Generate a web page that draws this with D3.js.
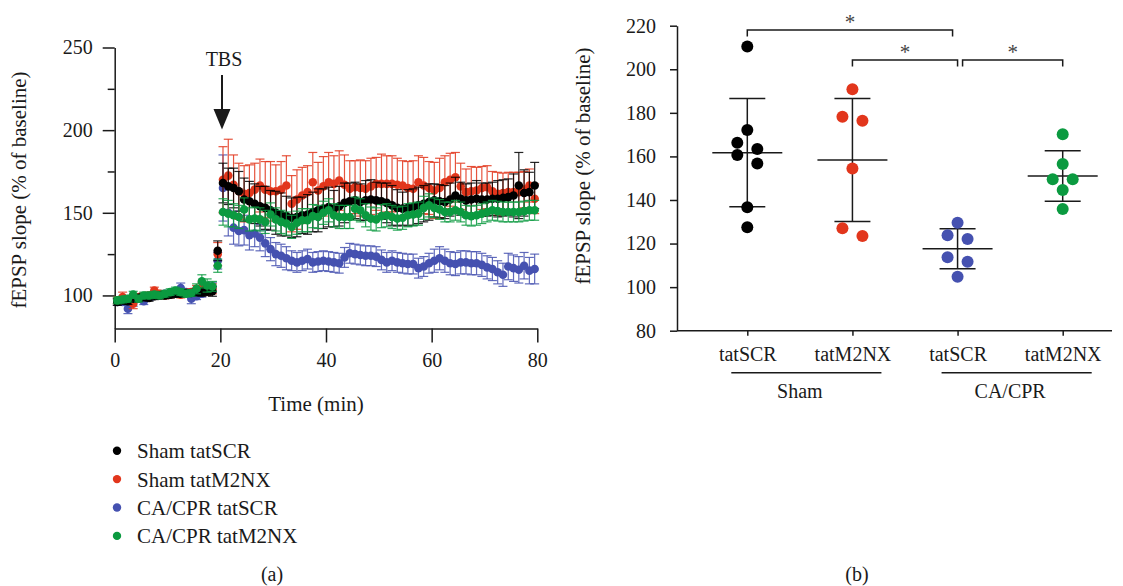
<!DOCTYPE html>
<html>
<head>
<meta charset="utf-8">
<script src="https://cdn.jsdelivr.net/npm/d3@7"></script>
<style>
body { margin: 0; background: #ffffff; }
svg { display: block; }
</style>
</head>
<body>
<div id="chart"></div>
<script>
// ---- panel (a): fEPSP time course, mean and SEM per minute ----
var timeMin = [0.5, 1.5, 2.5, 3.5, 4.5, 5.5, 6.5, 7.5, 8.5, 9.5, 10.5, 11.5, 12.5, 13.5, 14.5, 15.5, 16.5, 17.5, 18.5, 19.5,
    20.5, 21.5, 22.5, 23.5, 24.5, 25.5, 26.5, 27.5, 28.5, 29.5, 30.5, 31.5, 32.5, 33.5, 34.5, 35.5, 36.5, 37.5, 38.5, 39.5,
    40.5, 41.5, 42.5, 43.5, 44.5, 45.5, 46.5, 47.5, 48.5, 49.5, 50.5, 51.5, 52.5, 53.5, 54.5, 55.5, 56.5, 57.5, 58.5, 59.5,
    60.5, 61.5, 62.5, 63.5, 64.5, 65.5, 66.5, 67.5, 68.5, 69.5, 70.5, 71.5, 72.5, 73.5, 74.5, 75.5, 76.5, 77.5, 78.5, 79.5];

var seriesNames = ['Sham tatSCR', 'Sham tatM2NX', 'CA/CPR tatSCR', 'CA/CPR tatM2NX'];

var shamScrMean = [96, 97, 96.5, 98, 98.5, 99, 98.5, 99.5, 100, 100, 100.5, 101, 101, 101.5, 101.5, 102, 102, 102.5, 102.5, 127,
    168, 166, 165, 163, 158, 157, 155.5, 154, 153, 151.5, 150, 149, 148, 147, 147.5, 148.5, 149, 150.5, 151.5, 152.5,
    153.5, 152.5, 154, 156, 157, 157.5, 156.5, 157.5, 158, 157.5, 157, 156, 154.5, 153, 152.5, 153, 153.5, 154.5, 155.5, 156.5,
    157.5, 157, 156.5, 158, 160.5, 158.5, 157.5, 158, 158.5, 158, 158, 158.5, 158.5, 159, 159.5, 160.5, 166.5, 162, 162.5, 166.5];
var shamScrSem = [2, 2, 2, 2, 2, 2, 2, 2, 2, 2, 2, 2, 2, 2, 2, 2, 2.5, 2.5, 3, 6,
    12, 11, 12, 12, 13, 12, 12, 12, 13, 12, 13, 13, 12, 12, 12, 11, 12, 12, 13, 12,
    12, 11, 12, 12, 11, 11, 11, 12, 12, 11, 11, 12, 12, 11, 10, 11, 11, 11, 11, 11,
    10, 10, 10, 10, 11, 10, 10, 10, 11, 10, 10, 10, 11, 11, 11, 13, 20, 14, 12, 14];

var shamM2nxMean = [97, 99, 97.5, 95, 99, 99.5, 100, 103, 101, 100, 100.5, 102, 100.5, 101.5, 102, 104, 104.5, 103, 104, 125,
    170, 172.5, 167, 163, 161.5, 162, 164, 166.5, 164, 163, 163, 164, 166.5, 155.5, 158, 160.5, 162.5, 168.5, 163.5, 166,
    168.5, 167.5, 169.5, 167, 164.5, 165.5, 165, 164.5, 166, 167.5, 167.5, 167.5, 167.5, 167, 166.5, 165, 164.5, 168.5, 166.5, 165,
    163.5, 165, 168.5, 170, 171.5, 166, 162.5, 163, 163.5, 165, 165.5, 163, 161.5, 162, 162.5, 162.5, 162.5, 164, 166.5, 158.5];
var shamM2nxSem = [2, 3, 2, 3, 2, 2, 2, 2, 2, 2, 2, 2, 2, 2, 2, 2, 3, 3, 3, 7,
    20, 22, 18, 17, 17, 17, 16, 16, 17, 18, 16, 17, 18, 17, 18, 17, 16, 18, 17, 18,
    18, 17, 18, 18, 17, 16, 17, 17, 17, 16, 18, 17, 17, 16, 15, 16, 17, 16, 17, 16,
    17, 18, 16, 16, 15, 14, 14, 15, 14, 13, 13, 12, 13, 12, 12, 12, 12, 11, 10, 9];

var caScrMean = [96, 96, 92, 95.5, 98, 96.5, 99, 100, 100, 101, 100.5, 101, 104.5, 102, 98, 99.5, 101, 104, 105, 121,
    165, 150, 141, 139, 139.5, 136.5, 137.5, 135, 131.5, 128, 125, 124, 122.5, 121, 120, 121, 122, 120, 120.5, 121,
    120.5, 120, 119.5, 123, 125.5, 125, 124.5, 124, 124, 123.5, 121.5, 120, 121, 120, 119.5, 119, 119, 116.5, 117.5, 119.5,
    121, 122.5, 121, 119.5, 119, 120, 120, 119.5, 119.5, 118.5, 117, 116, 114, 112.5, 117.5, 116.5, 115.5, 118, 115, 116];
var caScrSem = [2, 2, 3, 2, 2, 2, 2, 2, 2, 2, 2, 2, 3, 2, 3, 2, 2, 3, 3, 5,
    20, 14, 10, 9, 9, 9, 8, 8, 8, 7, 7, 7, 7, 6, 6, 6, 6, 6, 6, 6,
    6, 6, 6, 6, 6, 6, 6, 6, 6, 6, 6, 6, 6, 6, 6, 6, 6, 6, 6, 6,
    7, 7, 7, 7, 7, 7, 7, 7, 7, 7, 7, 7, 7, 7, 8, 8, 8, 8, 8, 9];

var caM2nxMean = [97, 97.5, 98, 100.5, 98, 100, 100, 100.5, 100, 101, 102, 103, 102, 101, 101.5, 104, 108.5, 106, 105.5, 118,
    150.5, 149.5, 148.5, 147.5, 152, 146, 146.5, 146, 144.5, 149, 146, 144.5, 143.5, 141.5, 144, 145.5, 145.5, 148, 147.5, 150,
    151.5, 148.5, 147.5, 147.5, 147.5, 152.5, 151.5, 148.5, 146.5, 146, 148, 148.5, 147.5, 146.5, 147, 148.5, 149, 149.5, 153, 154.5,
    153, 152, 150.5, 150.5, 151.5, 150.5, 148.5, 148, 148.5, 149.5, 150.5, 151.5, 151, 150.5, 150.5, 150.5, 150.5, 151, 151.5, 151.5];
var caM2nxSem = [2, 2, 2, 2, 2, 2, 2, 2, 2, 2, 2, 2, 2, 2, 2, 3, 4, 4, 3, 4,
    8, 8, 7, 7, 7, 7, 7, 7, 7, 7, 7, 7, 7, 7, 7, 7, 7, 7, 7, 7,
    7, 7, 7, 7, 7, 7, 7, 7, 7, 7, 7, 7, 7, 7, 7, 7, 7, 7, 7, 7,
    6, 6, 6, 6, 6, 6, 6, 6, 6, 6, 6, 6, 6, 6, 6, 6, 6, 6, 6, 6];

var timeTicks = [0, 20, 40, 60, 80];
var slopeTicks = [100, 150, 200, 250];
var slopeMinorTicks = [125, 175, 225];

// ---- panel (b): individual slices, mean +/- SD ----
var groupTicks = ['tatSCR', 'tatM2NX', 'tatSCR', 'tatM2NX'];
var conditionNames = ['Sham', 'CA/CPR'];
var shamScrSlope = [210.4, 172.1, 166.3, 163.4, 160.7, 156.8, 136.7, 127.5];
var shamM2nxSlope = [190.8, 178.2, 176.4, 154.4, 127.0, 123.5];
var caScrSlope = [129.6, 123.8, 122.1, 113.7, 111.6, 104.8];
var caM2nxSlope = [170.2, 156.5, 149.5, 149.5, 144.6, 135.9];
var sigPairs = [[0, 2], [1, 2], [2, 3]];
var sigMarks = ['*', '*', '*'];
var groupTicksY = [80, 100, 120, 140, 160, 180, 200, 220];

var width = 1123;
var height = 586;
var serif = "'Liberation Serif', 'Times New Roman', serif";
var ink = '#1a1a1a';
var colors = ['#000000', '#e2361c', '#4551b0', '#0b9a40'];
var drawOrder = [2, 1, 0, 3];

window.onload = function() {
    var svg = d3.select('#chart').append('svg')
        .attr('width', width)
        .attr('height', height)
        .style('background', '#ffffff');

    drawTimeCourse(svg);
    drawLegend(svg);
    drawScatter(svg);

    svg.append('text').attr('x', 272).attr('y', 581).attr('text-anchor', 'middle')
        .attr('font-family', serif).attr('font-size', 20).attr('fill', ink).text('(a)');
    svg.append('text').attr('x', 857).attr('y', 581).attr('text-anchor', 'middle')
        .attr('font-family', serif).attr('font-size', 20).attr('fill', ink).text('(b)');
};

function styleAxis(g, size) {
    g.attr('font-family', serif).attr('font-size', size);
    g.selectAll('.domain, .tick line').attr('stroke', ink).attr('stroke-width', 1.5);
    g.selectAll('text').attr('fill', ink);
}

function drawTimeCourse(svg) {
    var x = d3.scaleLinear().domain([0, 80]).range([114.7, 537.3]);
    var y = d3.scaleLinear().domain([80, 250]).range([328.5, 47.5]);

    svg.append('g')
        .attr('transform', 'translate(0,328.5)')
        .call(d3.axisBottom(x).tickValues(timeTicks).tickSize(14).tickSizeOuter(0).tickPadding(10))
        .call(styleAxis, 20);

    svg.append('g')
        .attr('transform', 'translate(114.7,0)')
        .call(d3.axisLeft(y).tickValues(slopeTicks).tickSize(12).tickSizeOuter(0).tickPadding(10))
        .call(styleAxis, 20);

    var minor = svg.append('g')
        .attr('transform', 'translate(114.7,0)')
        .call(d3.axisLeft(y).tickValues(slopeMinorTicks).tickSize(7).tickFormat(''))
        .call(styleAxis, 20);
    minor.select('.domain').remove();

    svg.append('text')
        .attr('transform', 'translate(26,190) rotate(-90)')
        .attr('text-anchor', 'middle')
        .attr('font-family', serif).attr('font-size', 21).attr('fill', ink)
        .text('fEPSP slope (% of baseline)');

    svg.append('text')
        .attr('x', 316).attr('y', 411)
        .attr('text-anchor', 'middle')
        .attr('font-family', serif).attr('font-size', 21).attr('fill', ink)
        .text('Time (min)');

    // TBS arrow
    svg.append('text')
        .attr('x', 224).attr('y', 66)
        .attr('text-anchor', 'middle')
        .attr('font-family', serif).attr('font-size', 20).attr('fill', ink)
        .text('TBS');
    svg.append('line')
        .attr('x1', 222).attr('x2', 222).attr('y1', 75).attr('y2', 112)
        .attr('stroke', ink).attr('stroke-width', 2);
    svg.append('path')
        .attr('d', 'M213.5,109 L230.5,109 L222,129.5 Z')
        .attr('fill', ink);

    var means = [shamScrMean, shamM2nxMean, caScrMean, caM2nxMean];
    var sems = [shamScrSem, shamM2nxSem, caScrSem, caM2nxSem];

    drawOrder.forEach(function(s) {
        var rows = timeMin.map(function(t, i) {
            return { t: t, m: means[s][i], e: sems[s][i] };
        });
        var g = svg.append('g');

        g.selectAll('line.bar').data(rows).enter().append('line')
            .attr('x1', function(d) { return x(d.t); })
            .attr('x2', function(d) { return x(d.t); })
            .attr('y1', function(d) { return y(d.m - d.e); })
            .attr('y2', function(d) { return y(d.m + d.e); })
            .attr('stroke', colors[s]).attr('stroke-width', 1.2).attr('stroke-opacity', 0.85);

        [-1, 1].forEach(function(sign) {
            g.selectAll('line.cap' + sign).data(rows).enter().append('line')
                .attr('x1', function(d) { return x(d.t) - 4.5; })
                .attr('x2', function(d) { return x(d.t) + 4.5; })
                .attr('y1', function(d) { return y(d.m + sign * d.e); })
                .attr('y2', function(d) { return y(d.m + sign * d.e); })
                .attr('stroke', colors[s]).attr('stroke-width', 1.2).attr('stroke-opacity', 0.85);
        });

        g.selectAll('circle').data(rows).enter().append('circle')
            .attr('cx', function(d) { return x(d.t); })
            .attr('cy', function(d) { return y(d.m); })
            .attr('r', 4.3)
            .attr('fill', colors[s]);
    });
}

function drawLegend(svg) {
    seriesNames.forEach(function(name, i) {
        var cy = 450.7 + i * 28.4;
        svg.append('circle')
            .attr('cx', 117).attr('cy', cy).attr('r', 4.2)
            .attr('fill', colors[i]);
        svg.append('text')
            .attr('x', 137).attr('y', cy + 7.5)
            .attr('font-family', serif).attr('font-size', 21).attr('fill', ink)
            .text(name);
    });
}

// spread points of near-equal value sideways, like a column scatter
function swarmSlots(pixelY) {
    var order = d3.range(pixelY.length).sort(function(a, b) { return pixelY[a] - pixelY[b]; });
    var slots = pixelY.map(function() { return 0; });
    var cluster = [order[0]];
    function flush() {
        cluster.forEach(function(idx, k) {
            if (cluster.length % 2 === 0) {
                slots[idx] = (k % 2 === 0) ? -1 : 1;
            } else {
                slots[idx] = (k === 0) ? 0 : ((k % 2 === 1) ? 1 : -1);
            }
        });
    }
    for (var i = 1; i < order.length; i++) {
        if (pixelY[order[i]] - pixelY[order[i - 1]] < 10) {
            cluster.push(order[i]);
        } else {
            flush();
            cluster = [order[i]];
        }
    }
    flush();
    return slots;
}

function drawScatter(svg) {
    var x = d3.scalePoint().domain([0, 1, 2, 3]).range([747.3, 1062.7]);
    var y = d3.scaleLinear().domain([80, 220]).range([330.7, 25.7]);

    svg.append('g')
        .attr('transform', 'translate(677,0)')
        .call(d3.axisLeft(y).tickValues(groupTicksY).tickSize(7).tickSizeOuter(0).tickPadding(14))
        .call(styleAxis, 20);

    svg.append('line')
        .attr('x1', 677).attr('x2', 1112).attr('y1', 330.7).attr('y2', 330.7)
        .attr('stroke', ink).attr('stroke-width', 1.5);

    var xAxis = svg.append('g')
        .attr('transform', 'translate(0,330.7)')
        .call(d3.axisBottom(x).tickSize(5).tickPadding(11).tickFormat(function(i) { return groupTicks[i]; }))
        .call(styleAxis, 20);
    xAxis.select('.domain').remove();

    conditionNames.forEach(function(name, c) {
        var a = x(2 * c);
        var b = x(2 * c + 1);
        svg.append('line')
            .attr('x1', a - 16).attr('x2', b + 29).attr('y1', 372.7).attr('y2', 372.7)
            .attr('stroke', ink).attr('stroke-width', 1.5);
        svg.append('text')
            .attr('x', (a + b) / 2).attr('y', 398)
            .attr('text-anchor', 'middle')
            .attr('font-family', serif).attr('font-size', 20).attr('fill', ink)
            .text(name);
    });

    svg.append('text')
        .attr('transform', 'translate(590,166) rotate(-90)')
        .attr('text-anchor', 'middle')
        .attr('font-family', serif).attr('font-size', 21).attr('fill', ink)
        .text('fEPSP slope (% of baseline)');

    var groups = [shamScrSlope, shamM2nxSlope, caScrSlope, caM2nxSlope];

    groups.forEach(function(values, gi) {
        var cx = x(gi);
        var mean = d3.mean(values);
        var sd = d3.deviation(values);

        // mean and SD
        svg.append('line')
            .attr('x1', cx).attr('x2', cx).attr('y1', y(mean - sd)).attr('y2', y(mean + sd))
            .attr('stroke', ink).attr('stroke-width', 1.5);
        [mean - sd, mean + sd].forEach(function(v) {
            svg.append('line')
                .attr('x1', cx - 18).attr('x2', cx + 18).attr('y1', y(v)).attr('y2', y(v))
                .attr('stroke', ink).attr('stroke-width', 1.5);
        });
        svg.append('line')
            .attr('x1', cx - 35).attr('x2', cx + 35).attr('y1', y(mean)).attr('y2', y(mean))
            .attr('stroke', ink).attr('stroke-width', 1.5);

        var py = values.map(function(v) { return y(v); });
        var slots = swarmSlots(py);
        svg.append('g').selectAll('circle').data(values).enter().append('circle')
            .attr('cx', function(d, i) { return cx + slots[i] * 10; })
            .attr('cy', function(d) { return y(d); })
            .attr('r', 6)
            .attr('fill', colors[gi]);
    });

    // significance brackets
    var levels = [218, 204.2, 204.2];
    var trims = [[0, 5], [0, 0], [5, 0]];
    sigPairs.forEach(function(pair, k) {
        var x1 = x(pair[0]) + trims[k][0];
        var x2 = x(pair[1]) - trims[k][1];
        var top = y(levels[k]);
        svg.append('path')
            .attr('d', 'M' + x1 + ',' + (top + 6.5) + 'V' + top + 'H' + x2 + 'V' + (top + 6.5))
            .attr('fill', 'none').attr('stroke', ink).attr('stroke-width', 1.5);
        svg.append('text')
            .attr('x', (x1 + x2) / 2).attr('y', top - 1.5)
            .attr('text-anchor', 'middle')
            .attr('font-family', serif).attr('font-size', 21).attr('fill', '#444')
            .text(sigMarks[k]);
    });
}
</script>
</body>
</html>
